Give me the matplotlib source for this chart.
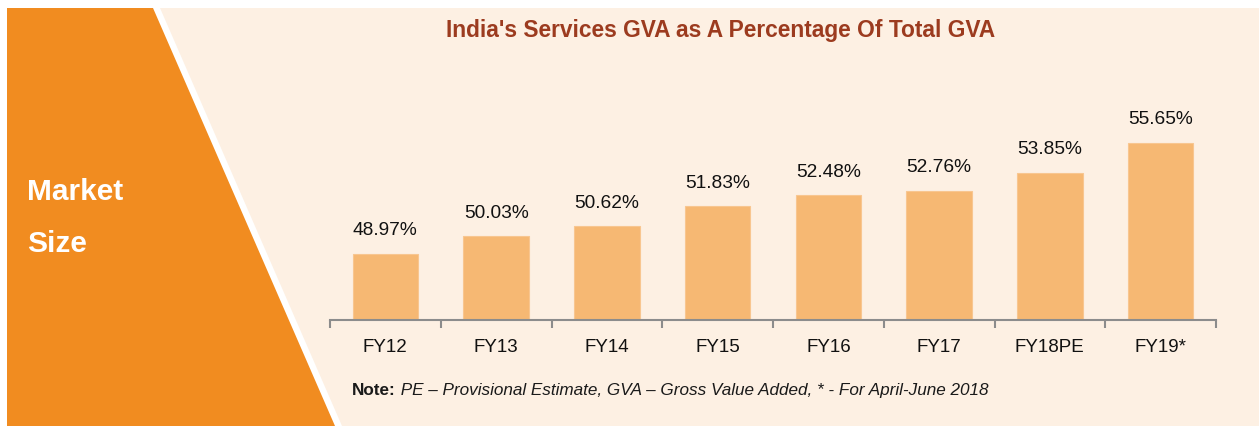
import matplotlib
matplotlib.use('Agg')
import matplotlib.pyplot as plt
from matplotlib.patches import Polygon

categories = ['FY12', 'FY13', 'FY14', 'FY15', 'FY16', 'FY17', 'FY18PE', 'FY19*']
services_share = [48.97, 50.03, 50.62, 51.83, 52.48, 52.76, 53.85, 55.65]
value_labels = ['48.97%', '50.03%', '50.62%', '51.83%', '52.48%', '52.76%', '53.85%', '55.65%']

title = "India's Services GVA as A Percentage Of Total GVA"
side_label = ['Market', 'Size']
note_bold = 'Note:'
note_rest = ' PE \u2013 Provisional Estimate, GVA \u2013 Gross Value Added, * - For April-June 2018'

ORANGE = '#F18C20'
CREAM = '#FDF0E3'
BAR = '#F6B873'
narrow = ['Liberation Sans Narrow', 'Liberation Sans', 'DejaVu Sans']
regular = ['Liberation Sans', 'DejaVu Sans']

W, H = 1259, 429
fig = plt.figure(figsize=(W / 100, H / 100), dpi=100)
fig.patch.set_facecolor('white')

# background panel in pixel coordinates
bg = fig.add_axes([0, 0, 1, 1])
bg.set_xlim(0, W)
bg.set_ylim(H, 0)
bg.axis('off')
bg.add_patch(Polygon([(160, 8), (W, 8), (W, 426), (342, 426)], closed=True,
                     facecolor=CREAM, edgecolor='none'))
bg.add_patch(Polygon([(7, 8), (153, 8), (335, 426), (7, 426)], closed=True,
                     facecolor=ORANGE, edgecolor='none'))
bg.text(27, 200, side_label[0], color='white', fontsize=21.5, fontweight='bold',
        family=narrow, va='baseline', ha='left')
bg.text(27, 252, side_label[1], color='white', fontsize=21.5, fontweight='bold',
        family=narrow, va='baseline', ha='left')
bg.text(721, 37, title, color='#9C3B1F', fontsize=16.4, fontweight='bold',
        family=narrow, va='baseline', ha='center')
t1 = bg.text(352, 395, note_bold, color='#1a1a1a', fontsize=12.3, fontweight='bold',
             family=regular, va='baseline', ha='left')
bg.annotate(note_rest, xy=(1, 0), xycoords=t1, va='bottom', ha='left',
            color='#1a1a1a', fontsize=12.3, fontstyle='italic', family=regular)

# bar chart
ax = fig.add_axes([330 / W, (H - 320) / H, (1216 - 330) / W, 260 / H])
ax.patch.set_alpha(0)
x = list(range(len(categories)))
ax.bar(x, services_share, width=0.59, color=BAR, edgecolor='#F8C690', linewidth=0.8)
ax.set_xlim(-0.5, len(categories) - 0.5)
ax.set_ylim(45, 45 + 260 / 16.66)

for xi, v, lab in zip(x, services_share, value_labels):
    ax.annotate(lab, xy=(xi, v), xytext=(0, 16.5), textcoords='offset points',
                ha='center', va='center', fontsize=13.8, family=regular, color='#111111')

for s in ['top', 'right', 'left']:
    ax.spines[s].set_visible(False)
ax.spines['bottom'].set_color('#8c8c8c')
ax.spines['bottom'].set_linewidth(1.5)
ax.set_yticks([])
ax.set_xticks([i - 0.5 for i in range(len(categories) + 1)])
ax.set_xticklabels([])
ax.tick_params(axis='x', which='major', length=5.8, width=1.5, color='#8c8c8c', direction='out')
ax.set_xticks(x, minor=True)
ax.set_xticklabels(categories, minor=True, fontsize=13.5, family=regular, color='#111111')
ax.tick_params(axis='x', which='minor', length=0, pad=14)

fig.savefig('out.png', dpi=100, facecolor='white')
